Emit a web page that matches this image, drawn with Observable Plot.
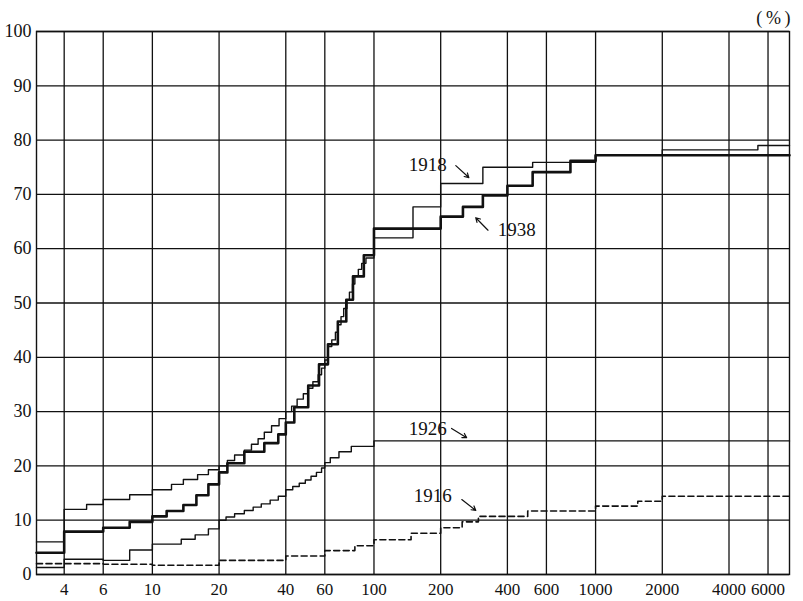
<!DOCTYPE html>
<html>
<head>
<meta charset="utf-8">
<script src="https://cdn.jsdelivr.net/npm/d3@7"></script>
<script src="https://cdn.jsdelivr.net/npm/@observablehq/plot@0.6"></script>
<style>
  html, body { margin: 0; padding: 0; background: #fff; }
  #chart svg { display: block; }
</style>
</head>
<body>
<div id="chart"></div>
<script>
// ---- tick values ----
const xTicks = [4, 6, 10, 20, 40, 60, 100, 200, 400, 600, 1000, 2000, 4000, 6000];
const yTicks = [0, 10, 20, 30, 40, 50, 60, 70, 80, 90, 100];
const xDomain = [3, 7500];

// ---- series: [x where the step starts, value %] ----
const series1918 = [[3,6.0],[4,12.0],[5.05,12.9],[6,13.8],[7.9,14.7],[10,15.6],[12.2,16.6],[13.8,17.5],[16,18.4],[17.9,19.3],[20,20.0],[21.8,21.0],[23.5,22.0],[26,22.9],[28,24.0],[30,25.0],[32,26.2],[34.5,27.4],[37.3,28.7],[40,30.0],[42.5,31.0],[45,32.3],[48,33.3],[50.5,34.3],[53,35.5],[56,36.8],[58,38.0],[60,39.5],[62,42.0],[64.5,43.2],[67,44.6],[69,46.0],[71,47.5],[73,49.0],[75.5,50.5],[77.5,52.0],[80,53.5],[82,55.0],[85,56.2],[88,57.3],[92,58.3],[100,62.0],[150,67.7],[200,72.0],[310,75.0],[520,75.9],[1000,77.2],[2000,78.2],[5400,79.0],[7500,79.0]];

const series1938 = [[3,4.0],[4,7.9],[6,8.6],[7.9,9.7],[10,10.7],[11.6,11.7],[13.8,12.8],[15.8,14.6],[17.9,16.6],[20,18.8],[21.8,20.5],[26,22.6],[32,24.2],[37,25.8],[40,28.0],[43.7,30.8],[50.5,34.8],[56.5,38.7],[62,42.4],[68.7,46.6],[75,50.6],[80.4,54.9],[90,58.8],[100,63.7],[200,65.9],[252,67.7],[310,69.8],[400,71.6],[520,74.1],[770,76.2],[1000,77.2],[7500,77.2]];

const series1926 = [[3,1.3],[4,2.8],[6,2.6],[7.9,4.5],[10,5.6],[13.5,6.5],[15.6,7.3],[17.9,8.4],[20,10.0],[21.5,10.6],[23.5,11.2],[26,11.8],[28.5,12.4],[31,13.0],[34,13.7],[37,14.4],[40,15.6],[43,16.2],[46,16.8],[49,17.4],[52,18.1],[55,18.8],[58,19.6],[60,20.6],[63.5,21.5],[69.5,22.6],[79,23.6],[100,24.6],[7500,24.6]];

const series1916 = [[3,2.0],[4,2.0],[6,1.9],[10,1.7],[20,2.6],[40,3.4],[60,4.4],[82,5.3],[100,6.4],[147,7.6],[200,8.6],[250,9.7],[296,10.7],[494,11.7],[1000,12.6],[1550,13.5],[2000,14.4],[7500,14.4]];

// ---- annotations ----
const labelText = ["1918", "1938", "1926", "1916"];
const labelX = [175, 441, 175, 184];
const labelY = [75.5, 63.4, 26.9, 14.4];
const arrowX1 = [234, 327, 224, 249];
const arrowY1 = [75.3, 63.4, 26.9, 13.8];
const arrowX2 = [268, 288, 262, 288];
const arrowY2 = [73.1, 65.7, 25.2, 11.8];

const labels = labelText.map((t, i) => ({t, x: labelX[i], y: labelY[i]}));
const arrows = labelText.map((t, i) => ({x1: arrowX1[i], y1: arrowY1[i], x2: arrowX2[i], y2: arrowY2[i]}));

const ink = "#111";
const X = d => d[0], Y = d => d[1];

const chart = Plot.plot({
  width: 803,
  height: 601,
  marginLeft: 36,
  marginRight: 14,
  marginTop: 31,
  marginBottom: 27,
  style: {fontFamily: "'Liberation Serif', 'DejaVu Serif', serif", background: "#fff", color: ink},
  x: {type: "log", domain: xDomain, label: null, axis: null},
  y: {domain: [0, 100], label: null, axis: null},
  marks: [
    Plot.ruleX(xTicks, {stroke: ink, strokeWidth: 1.3}),
    Plot.ruleY(yTicks, {stroke: ink, strokeWidth: 1.3}),
    Plot.frame({stroke: ink, strokeWidth: 1.4}),
    // x tick labels (drawn through the x scale)
    Plot.text(xTicks, {x: d => d, frameAnchor: "bottom", text: d => String(d), lineAnchor: "top", dy: 8, fontSize: 17, fill: ink}),
    Plot.axisY({ticks: yTicks, tickSize: 0, tickPadding: 5, tickFormat: d => String(d), fontSize: 18, label: null}),
    Plot.line(series1916, {x: X, y: Y, curve: "step-after", stroke: ink, strokeWidth: 1.6, strokeDasharray: "6,3.5"}),
    Plot.line(series1926, {x: X, y: Y, curve: "step-after", stroke: ink, strokeWidth: 1.4}),
    Plot.line(series1918, {x: X, y: Y, curve: "step-after", stroke: ink, strokeWidth: 1.4}),
    Plot.line(series1938, {x: X, y: Y, curve: "step-after", stroke: ink, strokeWidth: 2.6}),
    Plot.text(labels, {x: "x", y: "y", text: "t", fontSize: 19, fill: ink}),
    Plot.arrow(arrows, {x1: "x1", y1: "y1", x2: "x2", y2: "y2", stroke: ink, strokeWidth: 1.2, headLength: 6}),
    Plot.text(["(\u2009%\u2009)"], {frameAnchor: "top-right", text: d => d, textAnchor: "end", dx: 1, dy: -20, fontSize: 18, fill: ink})
  ]
});
document.getElementById("chart").appendChild(chart);
</script>
</body>
</html>
